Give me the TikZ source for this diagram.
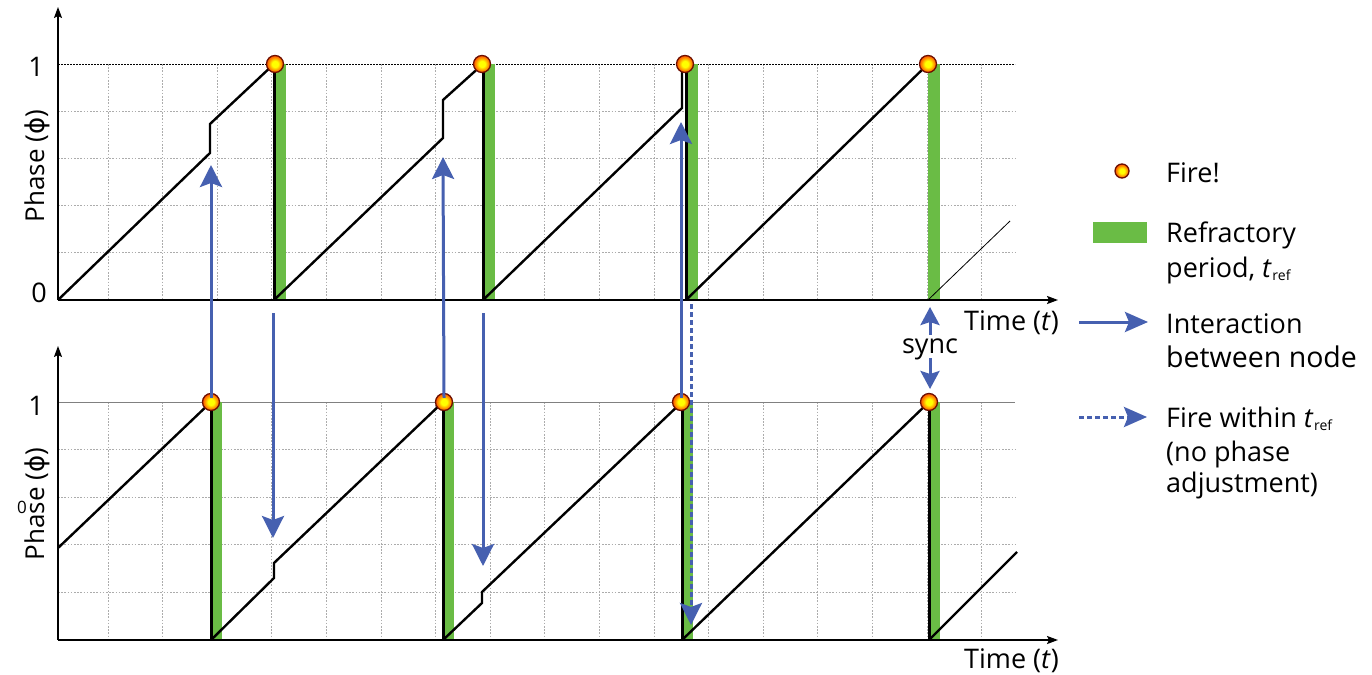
\documentclass[tikz,border=0pt]{standalone}
\usepackage{fontspec}
\setmainfont{Open Sans}
\newfontfamily\dejavu{DejaVu Sans}
\usetikzlibrary{arrows.meta}
\definecolor{refgreen}{RGB}{106,188,69}
\definecolor{arrblue}{RGB}{70,96,176}
\definecolor{fireedge}{RGB}{110,15,0}
\pgfdeclareradialshading{fireball}{\pgfpoint{0bp}{0bp}}{color(0bp)=(yellow); color(9bp)=(yellow); color(20bp)=(orange); color(32bp)=(red!80!orange); color(50bp)=(red)}
\newcommand{\tref}{\textit{t}\kern0.5pt\raisebox{-3pt}{\fontsize{14}{14}\selectfont ref}}
\newcommand{\phisym}{{\dejavu ϕ}}
\tikzset{
  gridline/.style={gray!65, line width=0.7pt, dash pattern=on 1.6pt off 1.6pt},
  axisline/.style={line width=1.8pt, -{Stealth[length=11pt,width=8pt,inset=2pt]}},
  curve/.style={line width=2.4pt, line join=miter},
  thincurve/.style={line width=0.8pt},
  dropline/.style={line width=3pt},
  refbar/.style={fill=refgreen, draw=none},
  fire/.style={circle, minimum size=17pt, inner sep=0pt, draw=fireedge, line width=1.3pt, shading=fireball},
  interact/.style={draw=arrblue, line width=3pt, -{Stealth[length=22pt,width=22pt,inset=4pt]}},
  interactdash/.style={interact, dash pattern=on 5pt off 3pt},
  syncarrow/.style={draw=arrblue, line width=3pt, -{Stealth[length=18pt,width=19pt,inset=3pt]}},
  lbl/.style={font=\fontsize{27}{30}\selectfont, inner sep=0pt},
  leg/.style={lbl, anchor=base west},
}
\begin{document}
\begin{tikzpicture}[x=1pt,y=-1pt]
\useasboundingbox (0,0) rectangle (1372,674);
\clip (0,0) rectangle (1372,674);
\fill[white] (0,0) rectangle (1372,674);

% ---------- grids ----------
\foreach \k in {0,...,16} {
  \draw[gridline] ({108+54.6*\k},64) -- ({108+54.6*\k},300);
  \draw[gridline] ({108+54.6*\k},402) -- ({108+54.6*\k},640);
}
\foreach \k in {1,...,4} {
  \draw[gridline] (58,{64+47.2*\k}) -- (1015,{64+47.2*\k});
  \draw[gridline] (58,{402+47.6*\k}) -- (1015,{402+47.6*\k});
}
\draw[black, line width=0.7pt, dash pattern=on 2pt off 1pt] (58,64) -- (1015,64);
\draw[gray, line width=1pt] (58,402) -- (1015,402);

% ---------- refractory bars ----------
\foreach \x in {274,483,686,928} \path[refbar] (\x,64) rectangle ({\x+12},300);
\foreach \x in {211,443,682,929} \path[refbar] (\x,402) rectangle ({\x+11},640);

% ---------- top node phase ----------
\draw[curve] (58,300) -- (210,153) -- (210,124) -- (274,64);
\draw[dropline] (274,64) -- (274,300);
\draw[curve] (274,300) -- (443,138) -- (443,100) -- (483,64);
\draw[dropline] (483,64) -- (483,300);
\draw[curve] (483,300) -- (682,108) -- (682,64);
\draw[dropline] (686,64) -- (686,300);
\draw[curve] (686,300) -- (928,64);
\draw[thincurve] (928,300) -- (1010,221);

% ---------- bottom node phase ----------
\draw[curve] (58,548) -- (211,402);
\draw[dropline] (211,402) -- (211,640);
\draw[curve] (211,640) -- (274,578) -- (274,563) -- (443,402);
\draw[dropline] (443,402) -- (443,640);
\draw[curve] (443,640) -- (482,603) -- (482,592) -- (682,402);
\draw[dropline] (682,402) -- (682,640);
\draw[curve] (682,640) -- (929,402);
\draw[dropline] (929,402) -- (929,640);
\draw[curve] (929,640) -- (1017,552);

% ---------- axes ----------
\coordinate (o1) at (58,300);
\coordinate (yt1) at (58,7);
\coordinate (xt1) at (1058,300);
\coordinate (o2) at (58,640);
\coordinate (yt2) at (58,346);
\coordinate (xt2) at (1058,640);
\draw[axisline] (o1) -- (yt1);
\draw[axisline] (o1) -- (xt1);
\draw[axisline] (o2) -- (yt2);
\draw[axisline] (o2) -- (xt2);

% ---------- fire markers ----------
\node[fire] (a1) at (275,64) {};
\node[fire] (a2) at (482,64) {};
\node[fire] (a3) at (685,64) {};
\node[fire] (a4) at (928,64) {};
\node[fire] (b1) at (211,402) {};
\node[fire] (b2) at (444,402) {};
\node[fire] (b3) at (681,402) {};
\node[fire] (b4) at (929,402) {};

% ---------- interaction arrows ----------
\coordinate (u1) at (211,165);
\coordinate (u2) at (443,157);
\coordinate (u3) at (681,122);
\coordinate (d1s) at (273,313);
\coordinate (d1e) at (273,538);
\coordinate (d2s) at (483,313);
\coordinate (d2e) at (483,566);
\coordinate (dds) at (691,304);
\coordinate (dde) at (691,625);
\draw[interact] ([yshift=-5pt]b1.north) -- (u1);
\draw[interact] ([yshift=-5pt]b2.north) -- (u2);
\draw[interact] ([yshift=-5pt]b3.north) -- (u3);
\draw[interact] (d1s) -- (d1e);
\draw[interact] (d2s) -- (d2e);
\draw[interactdash] (dds) -- (dde);

% ---------- sync ----------
\node[lbl, anchor=base] (sync) at (930,353) {sync};
\coordinate (syu) at (930,307);
\coordinate (syd) at (930,389);
\draw[syncarrow] (930,335) -- (syu);
\draw[syncarrow] (930,358) -- (syd);

% ---------- axis labels ----------
\node[lbl, anchor=base east] (one1) at (44,77) {1};
\node[lbl, anchor=base east] (zero1) at (47,302) {0};
\node[lbl, anchor=base east] (one2) at (44,415) {1};
\node[lbl, rotate=90, anchor=base, font=\fontsize{26}{28}\selectfont] (ph1) at (44,166) {Phase (\phisym)};
\node[lbl, rotate=90, anchor=base, font=\fontsize{26}{28}\selectfont] (ph2) at (44,504) {Phase (\phisym)};
\node[inner sep=0pt, font=\fontsize{17}{17}\selectfont] (zero2) at (22,507) {0};
\node[lbl, anchor=base west] (time1) at (964,330) {Time (\textit{t})};
\node[lbl, anchor=base west] (time2) at (964,668) {Time (\textit{t})};

% ---------- legend ----------
\node[fire, minimum size=14pt] (lfire) at (1122,171) {};
\node[leg] (lt1) at (1166,182) {Fire!};
\path[refbar] (1093,222) rectangle (1147,243);
\node[leg] (lt2) at (1166,242) {Refractory};
\node[leg] (lt3) at (1166,277) {period, \tref};
\coordinate (la1) at (1079,322);
\coordinate (la2) at (1148,322);
\draw[interact, -{Stealth[length=23pt,width=20pt,inset=4pt]}] (la1) -- (la2);
\node[leg] (lt4) at (1166,333) {Interaction};
\begin{scope}
  \clip (0,0) rectangle (1356,674);
  \node[leg, font=\fontsize{28.5}{30}\selectfont] (lt5) at (1166,367) {between nodes};
\end{scope}
\coordinate (lb1) at (1079,417);
\coordinate (lb2) at (1147,417);
\draw[interactdash, -{Stealth[length=23pt,width=20pt,inset=4pt]}] (lb1) -- (lb2);
\node[leg] (lt6) at (1166,427) {Fire within \tref};
\node[leg] (lt7) at (1166,461) {(no phase};
\node[leg] (lt8) at (1166,492) {adjustment)};
\end{tikzpicture}
\end{document}
